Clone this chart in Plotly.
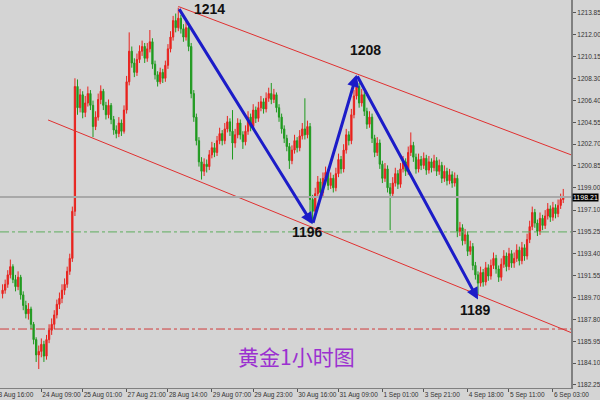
import plotly.graph_objects as go

opens = [1190.0,1190.3,1190.8,1191.6,1192.3,1191.2,1190.6,1191.4,1189.9,1189.0,
1188.3,1188.7,1187.4,1186.1,1184.8,1185.1,1185.7,1184.7,1186.1,1186.9,
1187.4,1188.2,1189.1,1189.6,1190.3,1190.8,1191.9,1193.0,1197.0,1207.6,
1205.8,1206.9,1205.4,1206.2,1207.0,1206.0,1204.2,1205.0,1206.5,1207.2,
1206.0,1205.2,1206.0,1204.8,1203.9,1203.6,1204.5,1203.8,1205.6,1208.0,
1210.6,1209.6,1208.8,1209.9,1210.6,1211.0,1210.0,1210.8,1211.4,1209.5,
1208.6,1208.0,1208.8,1208.3,1209.4,1210.8,1211.8,1213.2,1212.6,1213.4,
1212.5,1211.8,1212.6,1211.0,1207.0,1205.0,1203.0,1201.2,1200.4,1201.0,
1200.8,1201.8,1202.4,1202.0,1203.0,1203.6,1203.0,1204.0,1204.6,1203.8,
1202.8,1203.5,1204.5,1203.5,1202.9,1203.8,1205.0,1204.2,1205.6,1204.9,
1205.8,1206.3,1205.7,1206.6,1207.0,1206.5,1206.9,1205.8,1205.0,1204.0,
1203.2,1202.5,1201.3,1202.2,1203.0,1202.4,1203.4,1204.0,1203.5,1204.2,
1198.0,1197.0,1198.5,1199.5,1198.6,1199.8,1200.3,1199.2,1199.8,1199.0,
1200.2,1201.4,1200.6,1202.2,1203.5,1203.0,1205.2,1206.8,1207.6,1206.2,
1206.9,1205.5,1204.4,1205.0,1203.2,1202.0,1202.8,1201.0,1199.8,1200.6,
1199.0,1198.5,1199.4,1200.2,1199.3,1200.6,1201.2,1200.4,1202.0,1202.6,
1201.6,1200.6,1201.4,1200.9,1201.5,1200.5,1201.2,1200.7,1201.3,1200.4,
1200.9,1199.8,1200.4,1199.6,1200.1,1199.4,1199.8,1195.3,1195.6,1194.5,
1195.0,1193.6,1194.0,1192.4,1191.6,1190.9,1191.8,1191.0,1192.2,1191.5,
1192.4,1193.0,1192.1,1191.4,1192.5,1193.2,1192.3,1193.4,1192.6,1193.0,
1193.7,1192.8,1193.9,1193.2,1194.6,1195.7,1196.9,1196.0,1195.3,1196.4,
1195.8,1196.6,1197.2,1196.5,1197.3,1196.8,1197.5,1198.0]

closes = [1190.3,1190.8,1191.6,1192.3,1191.2,1190.6,1191.4,1189.9,1189.0,1188.3,
1188.7,1187.4,1186.1,1184.8,1185.1,1185.7,1184.7,1186.1,1186.9,1187.4,
1188.2,1189.1,1189.6,1190.3,1190.8,1191.9,1193.0,1197.0,1207.6,1205.8,
1206.9,1205.4,1206.2,1207.0,1206.0,1204.2,1205.0,1206.5,1207.2,1206.0,
1205.2,1206.0,1204.8,1203.9,1203.6,1204.5,1203.8,1205.6,1208.0,1210.6,
1209.6,1208.8,1209.9,1210.6,1211.0,1210.0,1210.8,1211.4,1209.5,1208.6,
1208.0,1208.8,1208.3,1209.4,1210.8,1211.8,1213.2,1212.6,1213.4,1212.5,
1211.8,1212.6,1211.0,1207.0,1205.0,1203.0,1201.2,1200.4,1201.0,1200.8,
1201.8,1202.4,1202.0,1203.0,1203.6,1203.0,1204.0,1204.6,1203.8,1202.8,
1203.5,1204.5,1203.5,1202.9,1203.8,1205.0,1204.2,1205.6,1204.9,1205.8,
1206.3,1205.7,1206.6,1207.0,1206.5,1206.9,1205.8,1205.0,1204.0,1203.2,
1202.5,1201.3,1202.2,1203.0,1202.4,1203.4,1204.0,1203.5,1204.2,1198.0,
1197.0,1198.5,1199.5,1198.6,1199.8,1200.3,1199.2,1199.8,1199.0,1200.2,
1201.4,1200.6,1202.2,1203.5,1203.0,1205.2,1206.8,1207.6,1206.2,1206.9,
1205.5,1204.4,1205.0,1203.2,1202.0,1202.8,1201.0,1199.8,1200.6,1199.0,
1198.5,1199.4,1200.2,1199.3,1200.6,1201.2,1200.4,1202.0,1202.6,1201.6,
1200.6,1201.4,1200.9,1201.5,1200.5,1201.2,1200.7,1201.3,1200.4,1200.9,
1199.8,1200.4,1199.6,1200.1,1199.4,1199.8,1195.3,1195.6,1194.5,1195.0,
1193.6,1194.0,1192.4,1191.6,1190.9,1191.8,1191.0,1192.2,1191.5,1192.4,
1193.0,1192.1,1191.4,1192.5,1193.2,1192.3,1193.4,1192.6,1193.0,1193.7,
1192.8,1193.9,1193.2,1194.6,1195.7,1196.9,1196.0,1195.3,1196.4,1195.8,
1196.6,1197.2,1196.5,1197.3,1196.8,1197.5,1198.0,1198.2]

highs = [1190.8,1191.2,1192.0,1192.9,1192.5,1191.6,1191.9,1191.6,1190.2,1189.4,
1189.2,1188.9,1187.6,1186.3,1185.6,1186.2,1186.0,1186.5,1187.4,1187.9,
1188.6,1189.5,1190.1,1190.8,1191.3,1192.3,1193.4,1197.4,1208.3,1208.2,
1207.4,1207.2,1206.8,1207.6,1207.3,1206.4,1205.5,1207.0,1207.7,1207.4,
1206.3,1206.5,1206.2,1205.1,1204.3,1205.0,1204.8,1206.0,1208.5,1212.2,
1211.0,1210.0,1210.4,1211.1,1211.5,1211.3,1211.3,1212.4,1211.7,1209.8,
1208.9,1209.2,1209.1,1209.8,1211.2,1212.3,1213.6,1213.8,1214.3,1213.7,
1212.9,1213.1,1212.9,1211.3,1207.3,1205.3,1203.3,1201.6,1201.5,1201.4,
1202.2,1202.9,1202.8,1203.4,1204.1,1203.9,1204.5,1205.1,1204.9,1205.6,
1204.0,1204.9,1204.8,1203.8,1204.3,1205.5,1205.3,1206.1,1205.9,1206.3,
1206.8,1206.6,1207.1,1207.5,1207.9,1207.4,1207.1,1206.1,1205.3,1204.3,
1203.5,1202.8,1202.6,1203.5,1203.3,1203.9,1204.5,1206.6,1204.7,1204.5,
1198.4,1199.0,1200.0,1199.8,1200.3,1200.8,1200.6,1200.3,1200.1,1200.7,
1201.9,1201.7,1202.7,1204.0,1203.8,1205.7,1207.3,1208.5,1207.9,1207.4,
1207.2,1205.8,1205.5,1205.3,1203.5,1203.3,1203.1,1201.3,1201.1,1200.9,
1199.4,1199.9,1200.7,1200.5,1201.1,1201.7,1201.5,1202.5,1203.7,1202.9,
1201.9,1201.9,1201.7,1202.0,1201.8,1201.7,1201.5,1201.8,1201.6,1201.4,
1201.2,1200.9,1200.7,1200.6,1200.4,1200.3,1200.1,1196.1,1195.9,1195.5,
1195.3,1194.5,1194.3,1192.7,1191.9,1192.3,1192.1,1192.7,1192.5,1192.9,
1193.5,1193.3,1192.4,1193.0,1193.7,1193.5,1193.9,1193.7,1193.5,1194.2,
1194.0,1194.4,1194.2,1195.1,1196.2,1197.4,1197.2,1196.3,1196.9,1196.7,
1197.1,1197.7,1197.5,1197.8,1197.6,1198.0,1198.5,1198.9]

lows = [1189.6,1190.0,1190.5,1191.3,1190.9,1190.2,1190.3,1189.5,1188.6,1187.9,
1187.8,1187.0,1185.7,1184.2,1183.6,1184.6,1184.2,1184.4,1185.8,1186.5,
1187.0,1187.9,1188.7,1189.2,1189.9,1190.5,1191.6,1192.7,1196.6,1205.2,
1205.4,1204.9,1205.0,1205.9,1205.6,1203.3,1203.9,1204.7,1206.1,1205.6,
1204.8,1204.9,1204.4,1203.5,1203.2,1203.3,1203.4,1203.6,1205.3,1207.7,
1209.2,1208.4,1208.5,1209.6,1210.2,1209.6,1209.7,1210.5,1209.1,1208.2,
1207.6,1207.8,1207.9,1208.0,1209.1,1210.5,1211.5,1212.2,1212.3,1212.1,
1211.4,1211.5,1210.6,1206.6,1204.6,1202.6,1200.8,1199.7,1200.0,1200.3,
1200.5,1201.5,1201.6,1201.7,1202.7,1202.6,1202.7,1203.7,1203.4,1201.4,
1202.4,1203.2,1203.1,1202.3,1202.6,1203.5,1203.8,1203.9,1204.5,1204.6,
1205.5,1205.3,1205.4,1206.3,1206.1,1206.2,1205.4,1204.6,1203.6,1202.8,
1202.1,1200.6,1201.0,1201.9,1202.0,1202.1,1203.1,1203.1,1203.2,1196.8,
1196.0,1196.7,1198.2,1198.2,1198.3,1199.5,1198.8,1198.9,1198.6,1198.7,
1199.9,1200.2,1200.3,1201.9,1202.6,1202.7,1204.9,1206.5,1205.8,1205.9,
1205.1,1204.0,1204.1,1202.8,1201.6,1201.7,1200.6,1199.4,1199.5,1198.6,
1195.4,1198.2,1199.1,1198.9,1199.0,1200.3,1200.0,1200.1,1201.7,1201.2,
1200.2,1200.3,1200.5,1200.6,1200.1,1200.2,1200.3,1200.4,1200.0,1200.1,
1199.4,1199.5,1199.2,1199.3,1199.0,1199.1,1194.8,1194.9,1194.1,1194.2,
1193.2,1193.3,1192.0,1191.2,1189.9,1190.6,1190.6,1190.7,1191.1,1191.2,
1192.1,1191.7,1191.0,1191.1,1192.2,1191.9,1192.0,1192.2,1192.2,1192.7,
1192.4,1192.5,1192.8,1192.9,1194.3,1195.4,1195.6,1194.9,1195.0,1195.4,
1195.5,1196.3,1196.1,1196.2,1196.4,1196.5,1197.2,1197.7]

bars = list(range(len(closes)))

tick_bars = [15, 31, 48, 64, 81, 97, 114, 130, 147, 163, 180, 196, 213]
tick_text = ["24 Aug 09:00", "25 Aug 01:00", "27 Aug 21:00", "28 Aug 14:00",
             "29 Aug 07:00", "29 Aug 23:00", "30 Aug 16:00", "31 Aug 09:00",
             "1 Sep 01:00", "3 Sep 21:00", "4 Sep 18:00", "5 Sep 11:00", "6 Sep 03:00"]
first_label = "23 Aug 16:00"

y_ticks = [1213.85, 1212.00, 1210.15, 1208.30, 1206.40, 1204.55, 1202.70, 1200.85,
           1199.00, 1197.10, 1195.25, 1193.40, 1191.55, 1189.70, 1187.80, 1185.95,
           1184.10, 1182.25]

current_price = 1198.21
green_level = 1195.25
red_level = 1187.0

upper_channel_x = [68, 220]
upper_channel_y = [1214.4, 1201.8]
lower_channel_x = [17.6, 220]
lower_channel_y = [1204.76, 1186.7]

zig_x = [68, 120, 137, 184]
zig_y = [1214.3, 1195.9, 1208.6, 1189.5]
zig_labels = ["1214", "1208", "1196", "1189"]
zig_label_x = [80, 140.6, 118, 183]
zig_label_y = [1214.15, 1210.7, 1195.2, 1188.6]

BG = "#d4d4d4"
TICKFONT = dict(family="Arial, Liberation Sans", size=6.5, color="#333333")

fig = go.Figure()

fig.add_trace(go.Candlestick(
    x=bars, open=opens, high=highs, low=lows, close=closes,
    increasing=dict(line=dict(color="#e8231e", width=1), fillcolor="#e8231e"),
    decreasing=dict(line=dict(color="#1f9a1f", width=1), fillcolor="#1f9a1f"),
    whiskerwidth=0, showlegend=False, hoverinfo="skip"))

fig.add_trace(go.Scatter(x=upper_channel_x, y=upper_channel_y, mode="lines",
                         line=dict(color="#e03030", width=1), showlegend=False, hoverinfo="skip"))
fig.add_trace(go.Scatter(x=lower_channel_x, y=lower_channel_y, mode="lines",
                         line=dict(color="#e03030", width=1), showlegend=False, hoverinfo="skip"))

fig.add_hline(y=current_price, line=dict(color="#a8a8a8", width=2))
fig.add_hline(y=green_level, line=dict(color="#5fae5f", width=1, dash="dashdot"))
fig.add_hline(y=red_level, line=dict(color="#d03a3a", width=1, dash="dashdot"))

for k in range(len(zig_x) - 1):
    fig.add_annotation(x=zig_x[k + 1], y=zig_y[k + 1], ax=zig_x[k], ay=zig_y[k],
                       xref="x", yref="y", axref="x", ayref="y", text="",
                       showarrow=True, arrowhead=2, arrowsize=0.8, arrowwidth=3,
                       arrowcolor="#1c1cc8")

for lx, ly, t in zip(zig_label_x, zig_label_y, zig_labels):
    fig.add_annotation(x=lx, y=ly, text="<b>" + t + "</b>", showarrow=False,
                       font=dict(family="Arial, Liberation Sans", size=14, color="#111111"))

fig.add_annotation(x=0.52, y=1184.7, xref="paper", yref="y", text="黄金1小时图",
                   showarrow=False,
                   font=dict(family="Noto Sans CJK SC", size=21, color="#9b30d0"))

fig.add_annotation(x=1.0, y=current_price, xref="paper", yref="y", text="1198.21",
                   showarrow=False, xanchor="left", xshift=1, bgcolor="#000000",
                   font=dict(family="Arial, Liberation Sans", size=7, color="#ffffff"),
                   borderpad=0)

fig.add_annotation(x=0, y=0, xref="paper", yref="paper", yanchor="top",
                   xanchor="left", xshift=-7, yshift=-1, text=first_label, showarrow=False,
                   font=TICKFONT)

fig.update_layout(
    width=600, height=400,
    margin=dict(l=0, r=29, t=0, b=12),
    paper_bgcolor=BG, plot_bgcolor=BG,
    xaxis=dict(range=[-1, 220], tickmode="array", tickvals=tick_bars, ticktext=tick_text,
               tickangle=0, automargin=False,
               ticks="outside", ticklen=3, tickcolor="#555555",
               ticklabelposition="outside right", showgrid=False, zeroline=False,
               showline=True, linecolor="#808080", linewidth=1,
               tickfont=TICKFONT, rangeslider=dict(visible=False), fixedrange=True),
    yaxis=dict(range=[1181.99, 1214.95], side="right", tickmode="array",
               tickvals=y_ticks, ticktext=["%.2f" % v for v in y_ticks],
               automargin=False, ticks="outside", ticklen=3, tickcolor="#555555",
               showgrid=False, zeroline=False, showline=True, linecolor="#808080", linewidth=2,
               tickfont=TICKFONT, fixedrange=True),
)

fig.write_html("out.html", config={"displayModeBar": False},
               post_script="document.body.style.margin='0';document.body.style.overflow='hidden';document.body.style.background='#d4d4d4';")
